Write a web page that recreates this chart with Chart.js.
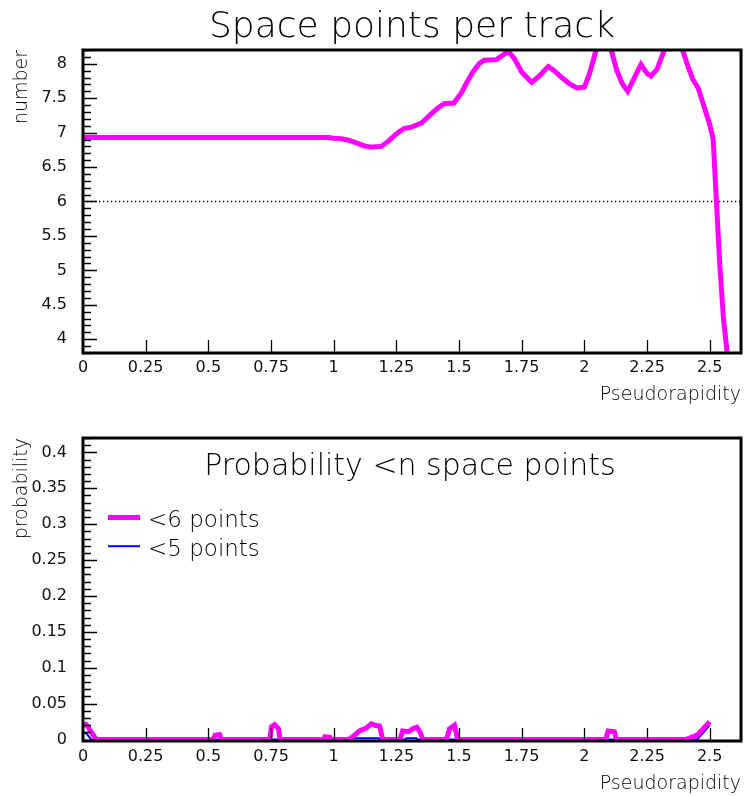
<!DOCTYPE html>
<html>
<head>
<meta charset="utf-8">
<script src="https://cdn.jsdelivr.net/npm/chart.js@4.4.1/dist/chart.umd.min.js"></script>
<style>
  html, body { margin: 0; padding: 0; background: #fff; }
  #wrap { position: relative; width: 744px; height: 796px; overflow: hidden; }
  #topChart { position: absolute; left: 0; top: 0; }
  #bottomChart { position: absolute; left: 0; top: 400px; }
</style>
</head>
<body>
<div id="wrap">
  <canvas id="topChart" width="744" height="410"></canvas>
  <canvas id="bottomChart" width="744" height="396"></canvas>
</div>
<script>
// ---- mean number of space points vs pseudorapidity ----
const etaMean = [0, 0.98, 1.0, 1.03, 1.06, 1.09, 1.12, 1.15, 1.19, 1.22, 1.25, 1.28, 1.31, 1.35, 1.38,
  1.41, 1.44, 1.48, 1.51, 1.53, 1.557, 1.58, 1.60, 1.65, 1.696, 1.72, 1.75, 1.79, 1.82, 1.856, 1.88,
  1.91, 1.94, 1.97, 2.0, 2.02, 2.047, 2.06, 2.08, 2.095, 2.107, 2.13, 2.15, 2.173, 2.20, 2.226, 2.25,
  2.266, 2.29, 2.319, 2.34, 2.37, 2.392, 2.41, 2.432, 2.455, 2.479, 2.50, 2.514, 2.527, 2.54, 2.555, 2.57];
const spacePoints = [6.93, 6.93, 6.92, 6.91, 6.89, 6.85, 6.81, 6.79, 6.80, 6.88, 6.98, 7.06, 7.08, 7.14, 7.24,
  7.34, 7.42, 7.43, 7.58, 7.72, 7.89, 8.00, 8.05, 8.06, 8.18, 8.08, 7.88, 7.73, 7.82, 7.96, 7.90,
  7.80, 7.71, 7.65, 7.66, 7.85, 8.20, 8.32, 8.38, 8.32, 8.20, 7.90, 7.72, 7.60, 7.80, 7.99, 7.86,
  7.82, 7.92, 8.20, 8.33, 8.36, 8.20, 8.00, 7.78, 7.64, 7.36, 7.12, 6.90, 6.00, 5.10, 4.30, 3.80];
const threshold = 6;

// ---- probability of fewer than n space points ----
const etaBelow6 = [0.005, 0.015, 0.03, 0.045, 0.055, 0.52, 0.527, 0.545, 0.552, 0.745, 0.752, 0.765, 0.78, 0.786,
  0.96, 0.965, 0.985, 0.99, 1.06, 1.08, 1.103, 1.13, 1.15, 1.165, 1.183, 1.196, 1.265, 1.275, 1.30, 1.315,
  1.332, 1.345, 1.356, 1.45, 1.462, 1.482, 1.495, 2.085, 2.095, 2.12, 2.128, 2.40, 2.42, 2.452, 2.479, 2.50];
const probBelow6 = [0.023, 0.020, 0.012, 0.004, 0, 0, 0.006, 0.007, 0, 0, 0.018, 0.021, 0.015, 0,
  0, 0.004, 0.003, 0, 0, 0.005, 0.012, 0.016, 0.022, 0.020, 0.019, 0, 0, 0.012, 0.011, 0.015,
  0.017, 0.010, 0, 0, 0.015, 0.020, 0, 0, 0.012, 0.011, 0, 0, 0.002, 0.0065, 0.017, 0.025];
const etaBelow5 = [0.0, 0.015, 0.033, 1.07, 1.09, 1.18, 1.19, 1.285, 1.29, 1.33, 1.335, 2.45, 2.47, 2.49, 2.50];
const probBelow5 = [0.011, 0.008, 0, 0, 0.002, 0.002, 0, 0, 0.002, 0.002, 0, 0, 0.008, 0.016, 0.020];

// ---- axes ----
const etaRange = [0, 2.625];
const meanRange = [3.8, 8.2];
const probRange = [-0.002, 0.42];
const etaTicks = [0, 0.25, 0.5, 0.75, 1, 1.25, 1.5, 1.75, 2, 2.25, 2.5];
const meanTicks = [4, 4.5, 5, 5.5, 6, 6.5, 7, 7.5, 8];
const probTicks = [0, 0.05, 0.1, 0.15, 0.2, 0.25, 0.3, 0.35, 0.4];

const THIN = "'DejaVu Sans'";
const MAGENTA = '#ff00ff';
const BLUE = '#0000ff';

const pairs = (xs, ys) => xs.map((x, i) => ({ x, y: ys[i] }));

// Inward tick marks (major + minor) and a heavy frame around the plot area
const frameTicks = {
  id: 'frameTicks',
  afterDatasetsDraw(chart, args, opts) {
    const { ctx, chartArea: a, scales: { x, y } } = chart;
    ctx.save();
    ctx.strokeStyle = '#000';
    ctx.lineWidth = 1.3;
    ctx.beginPath();
    const step = opts.yMinor;
    const k0 = Math.ceil(Math.max(y.min, 0) / step - 1e-9);
    for (let k = k0; k * step <= y.max + 1e-9; k++) {
      const v = k * step;
      const r = v / opts.yMajor;
      const major = Math.abs(r - Math.round(r)) < 1e-6;
      const py = Math.round(y.getPixelForValue(v)) + 0.5;
      ctx.moveTo(a.left, py);
      ctx.lineTo(a.left + (major ? 14 : 8), py);
    }
    x.ticks.forEach(t => {
      if (t.value <= x.min) return;
      const px = Math.round(x.getPixelForValue(t.value)) + 0.5;
      ctx.moveTo(px, a.bottom);
      ctx.lineTo(px, a.bottom - 13);
    });
    ctx.stroke();
    ctx.lineWidth = 3;
    ctx.strokeRect(a.left, a.top, a.right - a.left, a.bottom - a.top);
    ctx.restore();
  }
};

// Title and legend drawn inside the plot area of the lower panel
const insetLegend = {
  id: 'insetLegend',
  afterDatasetsDraw(chart, args, opts) {
    const { ctx, chartArea: a } = chart;
    ctx.save();
    ctx.fillStyle = '#000';
    ctx.textBaseline = 'alphabetic';
    ctx.font = `200 30px ${THIN}`;
    ctx.textAlign = 'center';
    ctx.fillText(opts.title, (a.left + a.right) / 2 - 2, a.top + 37);
    ctx.font = `200 23px ${THIN}`;
    ctx.textAlign = 'left';
    chart.data.datasets.forEach((ds, i) => {
      const ly = a.top + 79.5 + i * 28.7;
      ctx.strokeStyle = ds.borderColor;
      ctx.lineWidth = ds.borderWidth;
      ctx.beginPath();
      ctx.moveTo(a.left + 25, ly);
      ctx.lineTo(a.left + 57, ly);
      ctx.stroke();
      ctx.fillText(ds.label, a.left + 65, ly + 9.3);
    });
    ctx.restore();
  }
};

const tickFont = { family: "'DejaVu Sans'", size: 16 };
const axisTitleFont = { family: THIN, size: 19, weight: 200 };

function xAxis(height, padBottom, tickPad) {
  return {
    type: 'linear', min: etaRange[0], max: etaRange[1],
    afterBuildTicks: s => { s.ticks = etaTicks.map(v => ({ value: v })); },
    afterFit: s => { s.height = height; },
    grid: { display: false, drawTicks: false }, border: { display: false },
    ticks: { font: tickFont, color: '#111', padding: tickPad, maxRotation: 0, autoSkip: false,
             callback: v => String(v) },
    title: { display: true, text: 'Pseudorapidity', align: 'end', color: '#000',
             font: axisTitleFont, padding: { top: 0, bottom: padBottom } }
  };
}

function yAxis(range, tickValues, title) {
  return {
    type: 'linear', min: range[0], max: range[1],
    afterBuildTicks: s => { s.ticks = tickValues.map(v => ({ value: v })); },
    afterFit: s => { s.width = 83; },
    grid: { display: false, drawTicks: false }, border: { display: false },
    ticks: { font: tickFont, color: '#111', padding: 16, autoSkip: false, callback: v => String(v) },
    title: { display: true, text: title, align: 'end', color: '#000',
             font: axisTitleFont, padding: { top: 10.8, bottom: 0 } }
  };
}

new Chart(document.getElementById('topChart'), {
  type: 'line',
  data: {
    datasets: [
      { label: 'mean', data: pairs(etaMean, spacePoints), borderColor: MAGENTA, borderWidth: 5,
        pointRadius: 0, tension: 0, clip: 0 },
      { label: 'threshold', data: pairs(etaRange, [threshold, threshold]), borderColor: '#000',
        borderWidth: 1.3, borderDash: [1.3, 2.7], pointRadius: 0, clip: 0 }
    ]
  },
  options: {
    responsive: false, animation: false,
    layout: { padding: { top: 0, right: 3, bottom: 0, left: 0 } },
    scales: { x: xAxis(57, 3.6, 5), y: yAxis(meanRange, meanTicks, 'number') },
    plugins: {
      legend: { display: false }, tooltip: { enabled: false },
      title: { display: true, text: 'Space points per track', fullSize: false, color: '#000',
               font: { family: THIN, size: 36, weight: 200, lineHeight: 1.2 },
               padding: { top: 6, bottom: 0.8 } },
      frameTicks: { yMinor: 0.1, yMajor: 0.5 }
    }
  },
  plugins: [frameTicks]
});

new Chart(document.getElementById('bottomChart'), {
  type: 'line',
  data: {
    datasets: [
      { label: '<6 points', data: pairs(etaBelow6, probBelow6), borderColor: MAGENTA, borderWidth: 5,
        pointRadius: 0, tension: 0, clip: 0 },
      { label: '<5 points', data: pairs(etaBelow5, probBelow5), borderColor: BLUE, borderWidth: 2,
        pointRadius: 0, tension: 0, clip: 0 }
    ]
  },
  options: {
    responsive: false, animation: false,
    layout: { padding: { top: 38, right: 3, bottom: 0, left: 0 } },
    scales: { x: xAxis(55, 0.6, 6), y: yAxis(probRange, probTicks, 'probability') },
    plugins: {
      legend: { display: false }, tooltip: { enabled: false }, title: { display: false },
      frameTicks: { yMinor: 0.01, yMajor: 0.05 },
      insetLegend: { title: 'Probability <n space points' }
    }
  },
  plugins: [frameTicks, insetLegend]
});
</script>
</body>
</html>
